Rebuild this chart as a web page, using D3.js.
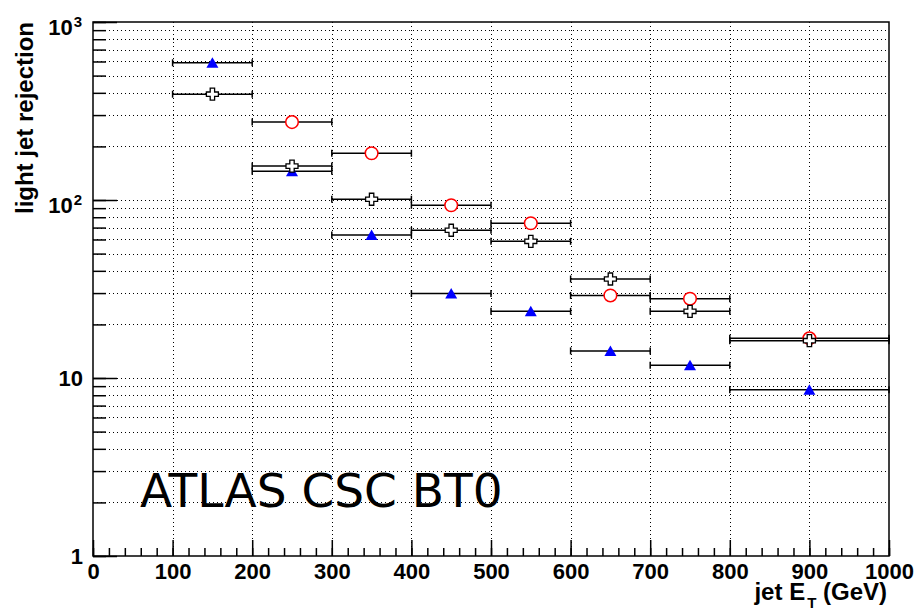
<!DOCTYPE html>
<html>
<head>
<meta charset="utf-8">
<script src="https://cdn.jsdelivr.net/npm/d3@7"></script>
<style>
  html, body { margin: 0; padding: 0; background: #fff; }
  svg { display: block; }
</style>
</head>
<body>
<script>
// ---- data ----
const binLow    = [100, 200, 300, 400, 500, 600, 700, 800];
const binHigh   = [200, 300, 400, 500, 600, 700, 800, 1000];
const binCenter = [150, 250, 350, 450, 550, 650, 750, 900];
const triangleSeries = [590, 145, 63.6, 29.8, 23.7, 14.2, 11.8, 8.6];
const crossSeries    = [393, 155, 101, 67.6, 58.6, 36.0, 23.7, 16.2];
const circleSeries   = [null, 274, 183, 93.4, 74, 29.1, 27.9, 16.7];
const xTickValues = [0, 100, 200, 300, 400, 500, 600, 700, 800, 900, 1000];
const yDecades = [1, 10, 100, 1000];
const yLabelBase = ["1", "10", "10", "10"];
const yLabelExp  = ["", "", "2", "3"];
const xTitle = ["jet E", "T", " (GeV)"];
const yTitle = "light jet rejection";
const annotation = "ATLAS CSC BT0";

// ---- layout ----
const W = 917, H = 611;
const L = 93, R = 889, T = 22, B = 556;
const x = d3.scaleLinear().domain([0, 1000]).range([L, R]);
const y = d3.scaleLog().domain([1, 1000]).range([B, T]);

const svg = d3.select("body").append("svg").attr("width", W).attr("height", H);
const labelFont = "'Liberation Sans', Arial, Helvetica, sans-serif";

// minor y values
const yMinor = [];
for (const d of [1, 10, 100]) for (let k = 1; k <= 9; k++) yMinor.push(d * k);
yMinor.push(1000);

// ---- grid ----
const grid = svg.append("g").attr("stroke", "#000").attr("stroke-width", 1).attr("stroke-dasharray", "1,3");
grid.selectAll("line.h").data(yMinor.filter(v => v > 1 && v < 1000)).join("line")
  .attr("x1", L).attr("x2", R)
  .attr("y1", d => Math.round(y(d)) + 0.5).attr("y2", d => Math.round(y(d)) + 0.5);
grid.selectAll("line.v").data(xTickValues.filter(v => v > 0 && v < 1000)).join("line")
  .attr("y1", T).attr("y2", B)
  .attr("x1", d => Math.round(x(d)) + 0.5).attr("x2", d => Math.round(x(d)) + 0.5);

// ---- axes ----
function styleAxis(g) {
  g.select(".domain").remove();
  g.selectAll("line").attr("stroke", "#000").attr("stroke-width", 1.5);
}
// x minor ticks
const xMinor = d3.range(0, 1001, 20);
svg.append("g").attr("transform", `translate(0,${B})`)
  .call(d3.axisBottom(x).tickValues(xMinor).tickSizeInner(-8).tickSizeOuter(0).tickFormat(""))
  .call(styleAxis);
// x major ticks with labels
svg.append("g").attr("transform", `translate(0,${B})`)
  .call(d3.axisBottom(x).tickValues(xTickValues).tickSizeInner(-16).tickSizeOuter(0).tickPadding(7.5).tickFormat(d3.format("d")))
  .call(styleAxis)
  .call(g => g.selectAll("text").attr("fill", "#000").attr("font-family", labelFont)
    .attr("font-weight", "bold").attr("font-size", 22));

// y minor ticks
svg.append("g").attr("transform", `translate(${L},0)`)
  .call(d3.axisLeft(y).tickValues(yMinor).tickSizeInner(-13).tickSizeOuter(0).tickFormat(""))
  .call(styleAxis);
// y major ticks
svg.append("g").attr("transform", `translate(${L},0)`)
  .call(d3.axisLeft(y).tickValues(yDecades).tickSizeInner(-24).tickSizeOuter(0).tickFormat(""))
  .call(styleAxis);

// y labels with exponents
const yl = svg.append("g").attr("font-family", labelFont).attr("font-weight", "bold").attr("fill", "#000");
yDecades.forEach((v, i) => {
  const ty = y(v);
  if (yLabelExp[i] === "") {
    yl.append("text").attr("x", 83).attr("y", ty + 8).attr("text-anchor", "end")
      .attr("font-size", 22).text(yLabelBase[i]);
  } else {
    const t = yl.append("text").attr("x", 82).attr("y", ty + 13).attr("text-anchor", "end").attr("font-size", 22);
    t.append("tspan").text(yLabelBase[i]);
    t.append("tspan").attr("font-size", 15).attr("dy", -8).attr("dx", 1).text(yLabelExp[i]);
  }
});

// frame
svg.append("rect").attr("x", L).attr("y", T).attr("width", R - L).attr("height", B - T)
  .attr("fill", "none").attr("stroke", "#000").attr("stroke-width", 1.5);

// ---- titles ----
const xt = svg.append("text").attr("x", 887).attr("y", 600).attr("text-anchor", "end")
  .attr("font-family", labelFont).attr("font-weight", "bold").attr("font-size", 24).attr("fill", "#000");
xt.append("tspan").text(xTitle[0]);
xt.append("tspan").attr("font-size", 15).attr("dy", 8).attr("dx", 2).text(xTitle[1]);
xt.append("tspan").attr("dy", -8).text(xTitle[2]);

svg.append("text").attr("transform", "translate(33,22) rotate(-90)").attr("text-anchor", "end")
  .attr("font-family", labelFont).attr("font-weight", "bold").attr("font-size", 24).attr("fill", "#000")
  .text(yTitle);

svg.append("text").attr("x", 140).attr("y", 507)
  .attr("font-family", "'DejaVu Sans', sans-serif").attr("font-size", 47).attr("fill", "#000")
  .text(annotation);

// ---- data marks ----
function errorBars(values, cls) {
  const g = svg.append("g").attr("class", cls).attr("stroke", "#000").attr("stroke-width", 1.5);
  values.forEach((v, i) => {
    if (v == null) return;
    const yy = y(v);
    g.append("line").attr("x1", x(binLow[i])).attr("x2", x(binHigh[i])).attr("y1", yy).attr("y2", yy);
    g.append("line").attr("x1", x(binLow[i])).attr("x2", x(binLow[i])).attr("y1", yy - 3.5).attr("y2", yy + 3.5);
    g.append("line").attr("x1", x(binHigh[i])).attr("x2", x(binHigh[i])).attr("y1", yy - 3.5).attr("y2", yy + 3.5);
  });
}
errorBars(triangleSeries, "eb-tri");
errorBars(crossSeries, "eb-cross");
errorBars(circleSeries, "eb-circ");

const idx = d3.range(binCenter.length);
// triangles
svg.append("g").selectAll("path").data(idx).join("path")
  .attr("transform", i => `translate(${x(binCenter[i])},${y(triangleSeries[i])})`)
  .attr("d", "M0,-5.5 L6,5 L-6,5 Z").attr("fill", "#0000ff");
// circles
svg.append("g").selectAll("circle").data(idx.filter(i => circleSeries[i] != null)).join("circle")
  .attr("cx", i => x(binCenter[i])).attr("cy", i => y(circleSeries[i])).attr("r", 6.3)
  .attr("fill", "#fff").attr("stroke", "#ff0000").attr("stroke-width", 1.5);
// crosses
const a = 6, w = 2.2;
const crossPath = `M${-w},${-a} L${w},${-a} L${w},${-w} L${a},${-w} L${a},${w} L${w},${w} L${w},${a} L${-w},${a} L${-w},${w} L${-a},${w} L${-a},${-w} L${-w},${-w} Z`;
svg.append("g").selectAll("path").data(idx).join("path")
  .attr("transform", i => `translate(${x(binCenter[i])},${y(crossSeries[i])})`)
  .attr("d", crossPath).attr("fill", "#fff").attr("stroke", "#000").attr("stroke-width", 1.3);
</script>
</body>
</html>
